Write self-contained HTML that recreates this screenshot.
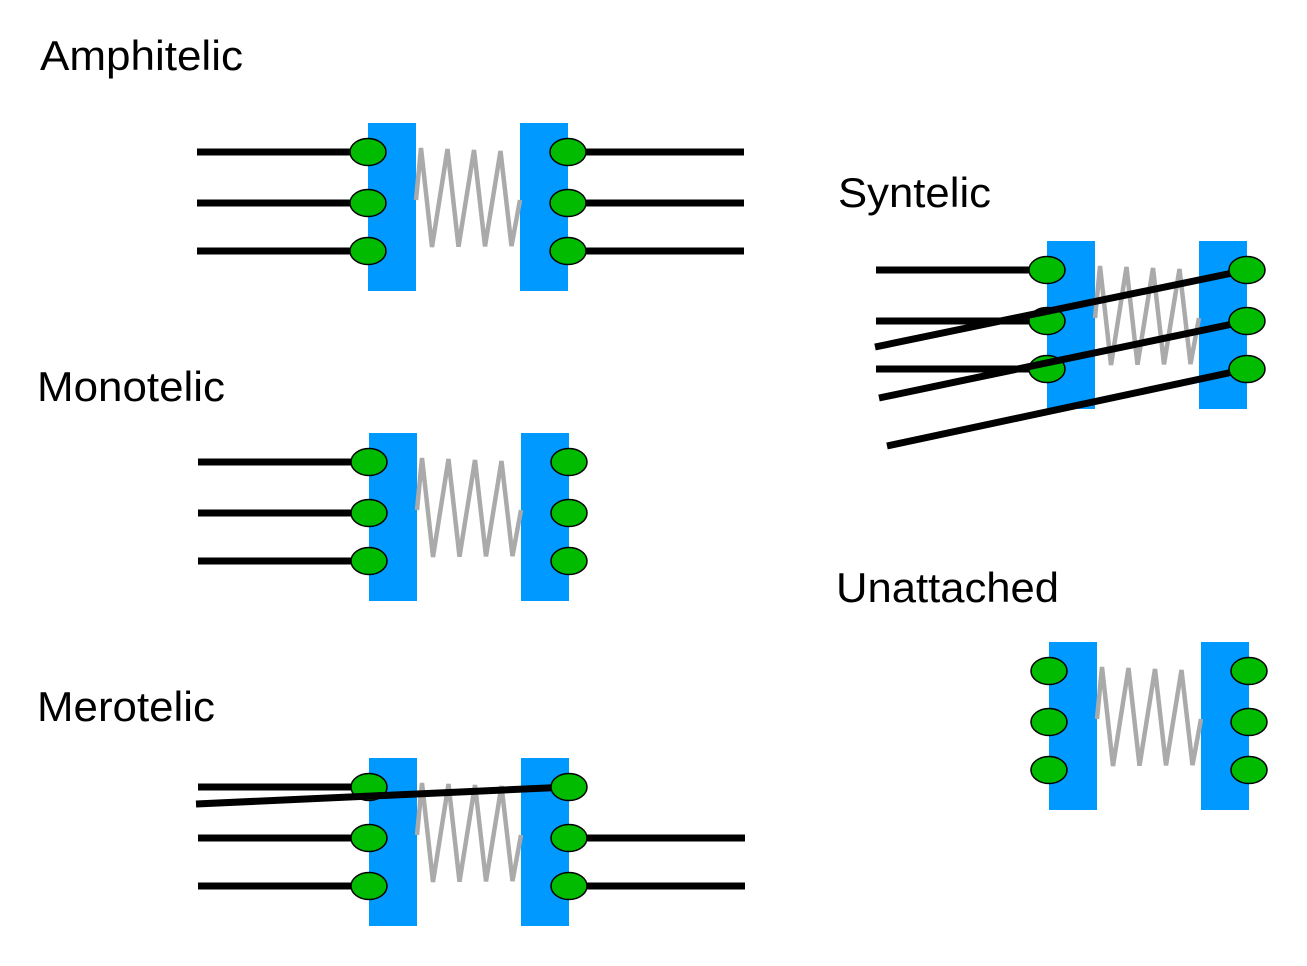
<!DOCTYPE html>
<html><head><meta charset="utf-8"><style>
html,body{margin:0;padding:0;background:#fff;}
svg{display:block;}
text{font-family:"Liberation Sans",sans-serif;font-size:42px;fill:#000;}
</style></head><body>
<svg id="s" width="1307" height="966" viewBox="0 0 1307 966" xmlns="http://www.w3.org/2000/svg">
<text x="40" y="70" textLength="203" lengthAdjust="spacingAndGlyphs">Amphitelic</text>
<text x="37" y="401" textLength="188" lengthAdjust="spacingAndGlyphs">Monotelic</text>
<text x="37" y="721" textLength="178" lengthAdjust="spacingAndGlyphs">Merotelic</text>
<text x="838" y="207" textLength="153" lengthAdjust="spacingAndGlyphs">Syntelic</text>
<text x="836" y="602" textLength="223" lengthAdjust="spacingAndGlyphs">Unattached</text>
</svg>
<script>
const NS='http://www.w3.org/2000/svg';
const svg=document.getElementById('s');
function mk(tag,attrs,name){
  const e=document.createElementNS(NS,tag);
  for(const k in attrs)e.setAttribute(k,attrs[k]);
  
  
  svg.appendChild(e);return e;
}
const modules=[
 {id:'amphitelic',lx:368,ty:123,left:[1,1,1],right:[1,1,1],diag:[]},
 {id:'monotelic',lx:369,ty:433,left:[1,1,1],right:[0,0,0],diag:[]},
 {id:'merotelic',lx:369,ty:758,left:[1,1,1],right:[0,1,1],diag:[[196,804,0]]},
 {id:'syntelic',lx:1047,ty:241,left:[1,1,1],right:[0,0,0],diag:[[875,347,0],[879,398,1],[887,446,2]]},
 {id:'unattached',lx:1049,ty:642,left:[0,0,0],right:[0,0,0],diag:[]}
];
const dys=[29,80,128];
modules.forEach(m=>{
  const rx=m.lx+152;
  mk('rect',{x:m.lx,y:m.ty,width:48,height:168,fill:'#0099ff'},m.id+'-left-block');
  mk('rect',{x:rx,y:m.ty,width:48,height:168,fill:'#0099ff'},m.id+'-right-block');
  const x0=m.lx+48;let pts=[[x0,m.ty+77]];
  for(let i=0;i<4;i++){pts.push([x0+5+i*26.5,m.ty+25+i]);pts.push([x0+16+i*26.5,m.ty+124-i*0.3]);}
  pts.push([rx,m.ty+77]);
  mk('polyline',{points:pts.map(p=>p.join(',')).join(' '),fill:'none',stroke:'#aaaaaa','stroke-width':4.5},m.id+'-spring');
  dys.forEach((dy,i)=>{
    if(m.left[i])mk('line',{x1:m.lx-171,y1:m.ty+dy,x2:m.lx,y2:m.ty+dy,stroke:'#000','stroke-width':7},m.id+'-left-microtubule');
    if(m.right[i])mk('line',{x1:rx+48,y1:m.ty+dy,x2:rx+224,y2:m.ty+dy,stroke:'#000','stroke-width':7},m.id+'-right-microtubule');
  });
  dys.forEach(dy=>mk('ellipse',{cx:m.lx,cy:m.ty+dy,rx:18,ry:13.5,fill:'#00bb00',stroke:'#000','stroke-width':1.5},m.id+'-left-kinetochore'));
  m.diag.forEach(d=>mk('line',{x1:d[0],y1:d[1],x2:rx+48,y2:m.ty+dys[d[2]],stroke:'#000','stroke-width':7},m.id+'-crossing-microtubule'));
  dys.forEach(dy=>mk('ellipse',{cx:rx+48,cy:m.ty+dy,rx:18,ry:13.5,fill:'#00bb00',stroke:'#000','stroke-width':1.5},m.id+'-right-kinetochore'));
});
</script>
</body></html>
